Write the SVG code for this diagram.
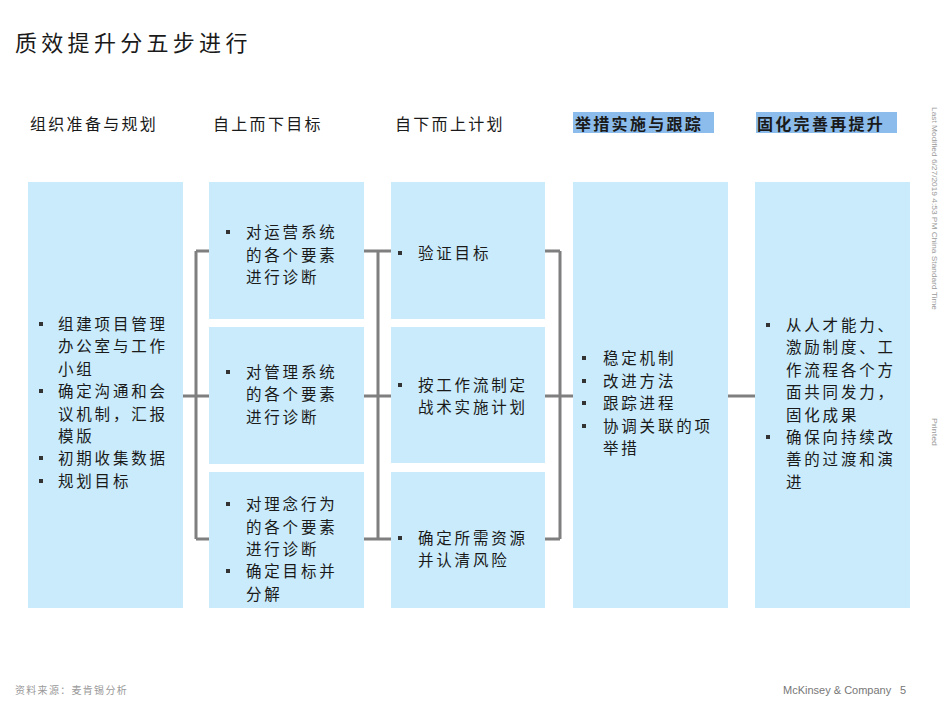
<svg xmlns="http://www.w3.org/2000/svg" width="941" height="706" viewBox="0 0 941 706">
<style>
.bg{fill:#ffffff}
.box{fill:#c9ebfb}
.hl{fill:#8cbcec}
.t{font-family:"Noto Sans CJK SC","Noto Sans",sans-serif;font-size:15.5px;letter-spacing:2.8px;fill:#1a1a1a}
.h{font-family:"Noto Sans CJK SC","Noto Sans",sans-serif;font-size:16px;letter-spacing:2.3px;fill:#1a1a1a}
.hb{font-weight:bold}
.title{font-family:"Noto Sans CJK SC","Noto Sans",sans-serif;font-size:22px;letter-spacing:4.3px;fill:#1a1a1a}
.b{fill:#333333}
.c{stroke:#7f7f7f;stroke-width:3;fill:none}
.side{font-family:"Liberation Sans",Arial,sans-serif;font-size:7.5px;fill:#9a9a9a}
.foot{font-family:"Noto Sans CJK SC","Noto Sans",sans-serif;font-size:10px;letter-spacing:1.3px;fill:#9a9a9a}
.mck{font-family:"Liberation Sans",Arial,sans-serif;font-size:11px;fill:#777777}
</style>
<rect class="bg" x="0" y="0" width="941" height="706"/>
<text class="title" x="15" y="51">质效提升分五步进行</text>

<g id="headers">
<text class="h" x="30" y="130">组织准备与规划</text>
<text class="h" x="213" y="130">自上而下目标</text>
<text class="h" x="395" y="130">自下而上计划</text>
<rect class="hl" x="573" y="112" width="141" height="21"/>
<text class="h hb" x="575" y="130">举措实施与跟踪</text>
<rect class="hl" x="756" y="112" width="141" height="21"/>
<text class="h hb" x="757" y="130">固化完善再提升</text>
</g>

<g id="connectors">
<path class="c" d="M183 396 H196 M196 251 V539 M196 251 H209 M196 396 H209 M196 539 H209"/>
<path class="c" d="M364 251 H391 M364 396 H391 M364 539 H391 M378 251 V539"/>
<path class="c" d="M545 251 H560 M545 396 H560 M545 539 H560 M560 251 V539 M560 396 H573"/>
<path class="c" d="M728 396 H755"/>
</g>

<g id="node-step1">
<rect class="box" x="28" y="182" width="155" height="426"/>
<rect class="b" x="39" y="322" width="4" height="4"/>
<rect class="b" x="39" y="389" width="4" height="4"/>
<rect class="b" x="39" y="456" width="4" height="4"/>
<rect class="b" x="39" y="479" width="4" height="4"/>
<text class="t" x="58" y="330">组建项目管理</text>
<text class="t" x="58" y="352">办公室与工作</text>
<text class="t" x="58" y="375">小组</text>
<text class="t" x="58" y="397">确定沟通和会</text>
<text class="t" x="58" y="420">议机制，汇报</text>
<text class="t" x="58" y="442">模版</text>
<text class="t" x="58" y="464">初期收集数据</text>
<text class="t" x="58" y="487">规划目标</text>
</g>

<g id="node-step2a">
<rect class="box" x="209" y="182" width="155" height="137"/>
<rect class="b" x="226" y="230" width="4" height="4"/>
<text class="t" x="246" y="238">对运营系统</text>
<text class="t" x="246" y="261">的各个要素</text>
<text class="t" x="246" y="283">进行诊断</text>
</g>
<g id="node-step2b">
<rect class="box" x="209" y="327" width="155" height="137"/>
<rect class="b" x="226" y="370" width="4" height="4"/>
<text class="t" x="246" y="378">对管理系统</text>
<text class="t" x="246" y="400">的各个要素</text>
<text class="t" x="246" y="423">进行诊断</text>
</g>
<g id="node-step2c">
<rect class="box" x="209" y="472" width="155" height="136"/>
<rect class="b" x="226" y="502" width="4" height="4"/>
<rect class="b" x="226" y="569" width="4" height="4"/>
<text class="t" x="246" y="510">对理念行为</text>
<text class="t" x="246" y="533">的各个要素</text>
<text class="t" x="246" y="555">进行诊断</text>
<text class="t" x="246" y="577">确定目标并</text>
<text class="t" x="246" y="600">分解</text>
</g>

<g id="node-step3a">
<rect class="box" x="391" y="182" width="154" height="137"/>
<rect class="b" x="398" y="251" width="4" height="4"/>
<text class="t" x="418" y="259">验证目标</text>
</g>
<g id="node-step3b">
<rect class="box" x="391" y="327" width="154" height="136"/>
<rect class="b" x="398" y="383" width="4" height="4"/>
<text class="t" x="418" y="391">按工作流制定</text>
<text class="t" x="418" y="413">战术实施计划</text>
</g>
<g id="node-step3c">
<rect class="box" x="391" y="472" width="154" height="136"/>
<rect class="b" x="398" y="536" width="4" height="4"/>
<text class="t" x="418" y="544">确定所需资源</text>
<text class="t" x="418" y="566">并认清风险</text>
</g>

<g id="node-step4">
<rect class="box" x="573" y="182" width="155" height="426"/>
<rect class="b" x="582" y="356" width="4" height="4"/>
<rect class="b" x="582" y="379" width="4" height="4"/>
<rect class="b" x="582" y="401" width="4" height="4"/>
<rect class="b" x="582" y="424" width="4" height="4"/>
<text class="t" x="603" y="364">稳定机制</text>
<text class="t" x="603" y="387">改进方法</text>
<text class="t" x="603" y="409">跟踪进程</text>
<text class="t" x="603" y="432">协调关联的项</text>
<text class="t" x="603" y="454">举措</text>
</g>

<g id="node-step5">
<rect class="box" x="755" y="182" width="155" height="426"/>
<rect class="b" x="766" y="323" width="4" height="4"/>
<rect class="b" x="766" y="435" width="4" height="4"/>
<text class="t" x="786" y="331">从人才能力、</text>
<text class="t" x="786" y="353">激励制度、工</text>
<text class="t" x="786" y="376">作流程各个方</text>
<text class="t" x="786" y="398">面共同发力，</text>
<text class="t" x="786" y="421">固化成果</text>
<text class="t" x="786" y="443">确保向持续改</text>
<text class="t" x="786" y="465">善的过渡和演</text>
<text class="t" x="786" y="488">进</text>
</g>

<text class="side" transform="translate(932 107) rotate(90)" textLength="203" lengthAdjust="spacingAndGlyphs">Last Modified 6/27/2019 4:53 PM China Standard Time</text>
<text class="side" transform="translate(932 418) rotate(90)" textLength="28" lengthAdjust="spacingAndGlyphs">Printed</text>

<text class="foot" x="15" y="694">资料来源：麦肯锡分析</text>
<text class="mck" x="783" y="694">McKinsey &amp; Company</text>
<text class="mck" x="900" y="694">5</text>
</svg>
